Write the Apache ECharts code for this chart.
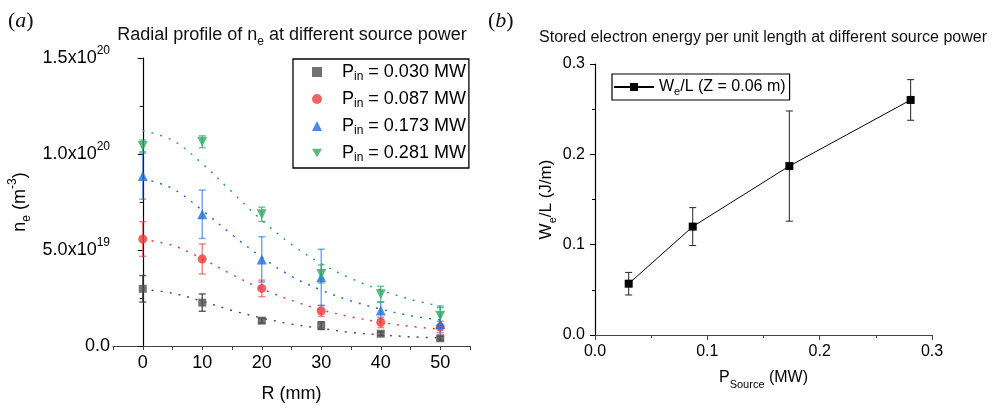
<!DOCTYPE html>
<html><head><meta charset="utf-8">
<script src="https://cdn.jsdelivr.net/npm/echarts@6/dist/echarts.min.js"></script>
<style>html,body{margin:0;padding:0;background:#fff}#c{width:1005px;height:408px}</style>
</head><body><div id="c"></div><script>
// ---------- Panel (a) data: n_e in units of 1e19 m^-3 ----------
const radius = [0, 10, 20, 30, 40, 50];
const powerLabels = ['0.030', '0.087', '0.173', '0.281'];
const ne030 = [2.98, 2.26, 1.32, 1.06, 0.64, 0.40];
const ne030Err = [0.69, 0.45, 0.12, 0.20, 0.10, 0.10];
const ne087 = [5.57, 4.53, 3.00, 1.82, 1.23, 0.99];
const ne087Err = [0.90, 0.78, 0.43, 0.28, 0.27, 0.30];
const ne173 = [8.85, 6.86, 4.51, 3.58, 1.85, 1.15];
const ne173Err = [1.20, 1.26, 1.18, 1.46, 0.45, 0.85];
const ne281 = [10.42, 10.64, 6.86, 3.75, 2.69, 1.58];
const ne281Err = [0.30, 0.31, 0.37, 0.47, 0.42, 0.50];
// dotted fit curves
const fitR = [0, 5, 10, 15, 20, 25, 30, 35, 40, 45, 50];
const fit030 = [2.95, 2.75, 2.33, 1.85, 1.46, 1.14, 0.92, 0.71, 0.58, 0.48, 0.42];
const fit087 = [5.55, 5.24, 4.55, 3.72, 2.98, 2.38, 1.88, 1.52, 1.24, 1.02, 0.88];
const fit173 = [8.72, 8.20, 7.07, 5.80, 4.62, 3.63, 2.91, 2.35, 1.92, 1.58, 1.36];
const fit281 = [11.21, 10.72, 9.50, 8.02, 6.55, 5.29, 4.29, 3.52, 2.92, 2.43, 2.07];
// tick labels
const xTickLabelsA = [0, 10, 20, 30, 40, 50];
const yTickValuesA = [0, 5, 10, 15];
const yTickMantissaA = ['0.0', '5.0x10', '1.0x10', '1.5x10'];
const yTickExpA = ['', '19', '20', '20'];

// ---------- Panel (b) data ----------
const power = [0.030, 0.087, 0.173, 0.281];
const energy = [0.0568, 0.120, 0.187, 0.2602];
const energyErr = [0.0125, 0.021, 0.061, 0.0225];
const tickLabelsB = ['0.0', '0.1', '0.2', '0.3'];

const colors = ['#505050', '#ee3b3b', '#1e6ee0', '#2faa60'];
const barColors = ['rgba(70,70,70,0.85)', 'rgba(238,59,59,0.6)', 'rgba(30,110,224,0.6)', 'rgba(47,170,96,0.65)'];
const FF = '"Liberation Sans", Arial, sans-serif';

const chart = echarts.init(document.getElementById('c'), null, {renderer: 'canvas'});

function errSeries(xs, ys, es, color, xi, yi, cap, lw) {
  return {
    type: 'custom', xAxisIndex: xi, yAxisIndex: yi, z: 1, silent: true,
    encode: {x: 0, y: 1},
    data: xs.map((x, i) => [x, ys[i], es[i]]),
    renderItem: (params, api) => {
      const x = api.value(0), y = api.value(1), e = api.value(2);
      const p1 = api.coord([x, y + e]), p2 = api.coord([x, y - e]);
      const st = {stroke: color, lineWidth: lw};
      return {type: 'group', children: [
        {type: 'line', shape: {x1: p1[0], y1: p1[1], x2: p2[0], y2: p2[1]}, style: st},
        {type: 'line', shape: {x1: p1[0] - cap, y1: p1[1], x2: p1[0] + cap, y2: p1[1]}, style: st},
        {type: 'line', shape: {x1: p2[0] - cap, y1: p2[1], x2: p2[0] + cap, y2: p2[1]}, style: st}
      ]};
    }
  };
}

const neSets = [ne030, ne087, ne173, ne281];
const neErrSets = [ne030Err, ne087Err, ne173Err, ne281Err];
const fitSets = [fit030, fit087, fit173, fit281];
const symbols = ['rect', 'circle', 'triangle', 'triangle'];
const symRot = [0, 0, 0, 180];
const symSize = [8, 9, 10, 10];
const legendIcons = ['rect', 'circle', 'triangle', 'path://M0,0 L10,0 L5,8.7 Z'];

const series = [];
for (let k = 0; k < 4; k++) {
  series.push({
    type: 'line', xAxisIndex: 0, yAxisIndex: 0, z: 2, silent: true,
    smooth: 0.35, showSymbol: false, symbol: 'none',
    lineStyle: {type: [2, 7], width: 1.5, color: colors[k]},
    data: fitR.map((r, i) => [r, fitSets[k][i]])
  });
  series.push(errSeries(radius, neSets[k], neErrSets[k], barColors[k], 0, 0, 3.5, 1.5));
  series.push({
    name: 'P' + powerLabels[k], type: 'scatter', xAxisIndex: 0, yAxisIndex: 0, z: 3,
    symbol: symbols[k], symbolRotate: symRot[k], symbolSize: symSize[k],
    itemStyle: {color: colors[k]},
    data: radius.map((r, i) => [r, neSets[k][i]])
  });
}
series.push(errSeries(power, energy, energyErr, '#222', 1, 1, 3.5, 1));
series.push({
  name: 'We', type: 'line', xAxisIndex: 1, yAxisIndex: 1, z: 3,
  symbol: 'rect', symbolSize: 8, showSymbol: true,
  itemStyle: {color: '#000'}, lineStyle: {color: '#000', width: 1},
  data: power.map((p, i) => [p, energy[i]])
});

const subRich = (fs, lh) => ({s: {fontSize: fs, fontFamily: FF, color: '#000', verticalAlign: 'bottom', lineHeight: lh}});
const supRich = (fs, lh) => ({p: {fontSize: fs, fontFamily: FF, color: '#000', verticalAlign: 'top', lineHeight: lh}});

const option = {
  backgroundColor: '#fff',
  animation: false,
  grid: [
    {left: 113, top: 58, width: 357, height: 288},
    {left: 595, top: 64, width: 337, height: 271}
  ],
  xAxis: [
    {
      type: 'value', gridIndex: 0, min: -5, max: 55, interval: 5,
      name: 'R (mm)', nameLocation: 'middle', nameGap: 39,
      nameTextStyle: {fontSize: 18, fontFamily: FF, color: '#000'},
      axisLine: {lineStyle: {color: '#444', width: 1.2}},
      axisTick: {length: 4, lineStyle: {color: '#444'}},
      splitLine: {show: false},
      axisLabel: {
        fontSize: 18, fontFamily: FF, color: '#000', margin: 8,
        formatter: v => xTickLabelsA.indexOf(Math.round(v)) >= 0 ? String(Math.round(v)) : ''
      }
    },
    {
      type: 'value', gridIndex: 1, min: 0, max: 0.3, interval: 0.1,
      name: 'P{s|Source} (MW)', nameLocation: 'middle', nameGap: 29,
      nameTextStyle: {fontSize: 16, fontFamily: FF, color: '#000', lineHeight: 26, rich: subRich(11, 14)},
      axisLine: {lineStyle: {color: '#444', width: 1.2}},
      axisTick: {length: 5, lineStyle: {color: '#444'}},
      minorTick: {show: true, splitNumber: 2, length: 3, lineStyle: {color: '#444'}},
      splitLine: {show: false},
      axisLabel: {fontSize: 16, fontFamily: FF, color: '#000', margin: 9,
        formatter: v => tickLabelsB[Math.round(v * 10)]}
    }
  ],
  yAxis: [
    {
      type: 'value', gridIndex: 0, min: 0, max: 15, interval: 5,
      name: 'n{s|e} (m{p|-3})', nameLocation: 'middle', nameGap: 80,
      nameTextStyle: {fontSize: 18, fontFamily: FF, color: '#000', lineHeight: 26,
        rich: Object.assign(subRich(12, 14), supRich(12, 12))},
      axisLine: {lineStyle: {color: '#000', width: 1.2}},
      axisTick: {length: 5, lineStyle: {color: '#000'}},
      minorTick: {show: true, splitNumber: 2, length: 3, lineStyle: {color: '#000'}},
      splitLine: {show: false},
      axisLabel: {
        fontSize: 18, fontFamily: FF, color: '#000', margin: 3, lineHeight: 26,
        rich: {m: {fontSize: 18, fontFamily: FF, color: '#000', lineHeight: 26}, p: {fontSize: 12, fontFamily: FF, color: '#000', verticalAlign: 'top', lineHeight: 12}},
        formatter: v => {
          const i = yTickValuesA.indexOf(Math.round(v));
          if (i < 0) return '';
          return '{m|' + yTickMantissaA[i] + '}' + (yTickExpA[i] ? '{p|' + yTickExpA[i] + '}' : '');
        }
      }
    },
    {
      type: 'value', gridIndex: 1, min: 0, max: 0.3, interval: 0.1,
      name: 'W{s|e}/L (J/m)', nameLocation: 'middle', nameGap: 32,
      nameTextStyle: {fontSize: 17, fontFamily: FF, color: '#000', lineHeight: 26, rich: subRich(11, 14)},
      axisLine: {lineStyle: {color: '#000', width: 1.2}},
      axisTick: {length: 5, lineStyle: {color: '#000'}},
      minorTick: {show: true, splitNumber: 2, length: 3, lineStyle: {color: '#000'}},
      splitLine: {show: false},
      axisLabel: {fontSize: 16, fontFamily: FF, color: '#000', margin: 10,
        formatter: v => tickLabelsB[Math.round(v * 10)]}
    }
  ],
  legend: [
    {
      data: powerLabels.map((p, k) => ({name: 'P' + p, icon: legendIcons[k]})),
      orient: 'vertical', left: 293, top: 59,
      padding: [2, 3, 4, 19], itemGap: 5, itemWidth: 10, itemHeight: 10,
      symbolKeepAspect: true,
      borderColor: '#000', borderWidth: 1.3,
      textStyle: {fontSize: 18, fontFamily: FF, color: '#000', lineHeight: 22, padding: [0, 0, 0, 15], rich: subRich(12, 12)},
      formatter: name => 'P{s|in} = ' + name.slice(1) + ' MW'
    },
    {
      data: ['We'],
      orient: 'vertical', left: 612, top: 74,
      padding: [3, 4, 3, 1], itemWidth: 40, itemHeight: 10,
      borderColor: '#000', borderWidth: 1.2,
      textStyle: {fontSize: 16, fontFamily: FF, color: '#000', lineHeight: 20, rich: subRich(11, 12)},
      formatter: () => 'W{s|e}/L (Z = 0.06 m)'
    }
  ],
  graphic: [
    {type: 'text', x: 292, y: 35, style: {
      text: 'Radial profile of n{s|e} at different source power', align: 'center', verticalAlign: 'middle',
      fontSize: 18, fontFamily: FF, fill: '#111', lineHeight: 26, rich: subRich(12, 14)}},
    {type: 'text', x: 763, y: 38, style: {
      text: 'Stored electron energy per unit length at different source power', align: 'center', verticalAlign: 'middle',
      fontSize: 16, fontFamily: FF, fill: '#111'}},
    {type: 'text', x: 8, y: 21, style: {
      text: '({i|a})', verticalAlign: 'middle', fontSize: 22, fontFamily: '"Liberation Serif", "Times New Roman", serif', fill: '#111',
      rich: {i: {fontSize: 22, fontStyle: 'italic', fontFamily: '"Liberation Serif", "Times New Roman", serif', color: '#111'}}}},
    {type: 'text', x: 488, y: 21, style: {
      text: '({i|b})', verticalAlign: 'middle', fontSize: 22, fontFamily: '"Liberation Serif", "Times New Roman", serif', fill: '#111',
      rich: {i: {fontSize: 22, fontStyle: 'italic', fontFamily: '"Liberation Serif", "Times New Roman", serif', color: '#111'}}}}
  ],
  series: series
};
chart.setOption(option);
</script></body></html>
